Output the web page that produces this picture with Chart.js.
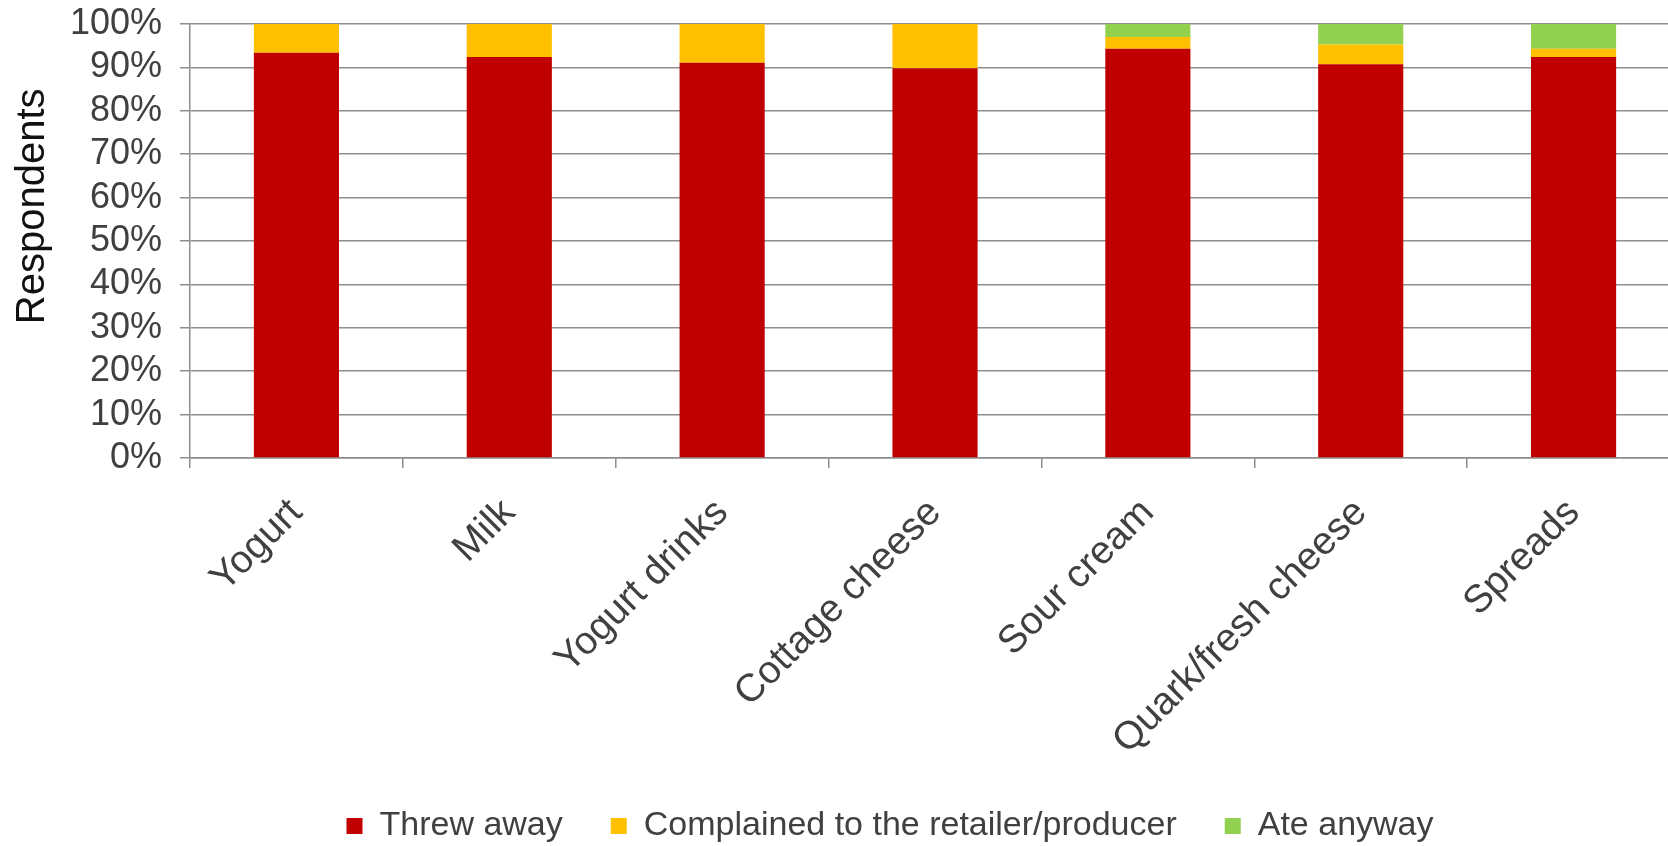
<!DOCTYPE html>
<html>
<head>
<meta charset="utf-8">
<title>Respondents</title>
<script src="https://cdn.jsdelivr.net/npm/chart.js@4.4.0/dist/chart.umd.min.js"></script>
<style>
    html, body { margin: 0; padding: 0; background: #fff; overflow: hidden; }
    #wrap { width: 1680px; height: 846px; }
</style>
</head>
<body>
<div id="wrap"><canvas id="chart"></canvas></div>
<script>
// Datos de la grafica (porcentaje de encuestados)
const categories = ['Yogurt', 'Milk', 'Yogurt drinks', 'Cottage cheese', 'Sour cream', 'Quark/fresh cheese', 'Spreads'];
const seriesNames = ['Threw away', 'Complained to the retailer/producer', 'Ate anyway'];
const threwAway = [93.4, 92.4, 91.1, 89.8, 94.3, 90.7, 92.4];
const complained = [6.6, 7.6, 8.9, 10.2, 2.7, 4.6, 1.9];
const ateAnyway = [0, 0, 0, 0, 3.0, 4.7, 5.7];
const yTickLabels = ['0%', '10%', '20%', '30%', '40%', '50%', '60%', '70%', '80%', '90%', '100%'];

const fontFamily = '"Liberation Sans", Arial, sans-serif';
const textColor = '#404040';
const gridColor = '#8e8e8e';

// titulo del eje Y, un poco por encima del centro
const yTitle = {
    id: 'yTitle',
    afterDraw(chart) {
        const { ctx, chartArea } = chart;
        ctx.save();
        ctx.translate(33, chartArea.top + (chartArea.bottom - chartArea.top) * 0.42);
        ctx.rotate(-Math.PI / 2);
        ctx.font = '40px ' + fontFamily;
        ctx.fillStyle = '#111';
        ctx.textAlign = 'center';
        ctx.textBaseline = 'middle';
        ctx.fillText('Respondents', 0, 0);
        ctx.restore();
    }
};

// mueve la leyenda un poco a la derecha
const legendShift = {
    id: 'legendShift',
    afterLayout(chart) {
        chart.legend.left += 50;
        chart.legend.right += 50;
    }
};

const ctx = document.getElementById('chart').getContext('2d');

new Chart(ctx, {
    type: 'bar',
    data: {
        labels: categories,
        datasets: [
            { label: seriesNames[0], data: threwAway, backgroundColor: '#C00000' },
            { label: seriesNames[1], data: complained, backgroundColor: '#FFC000' },
            { label: seriesNames[2], data: ateAnyway, backgroundColor: '#92D050' }
        ]
    },
    options: {
        responsive: true,
        maintainAspectRatio: false,
        animation: false,
        barPercentage: 0.4,
        categoryPercentage: 1,
        layout: { autoPadding: false, padding: { left: 0, top: 24, right: 0, bottom: -7 } },
        plugins: {
            legend: {
                position: 'bottom',
                labels: {
                    boxWidth: 16,
                    boxHeight: 16,
                    padding: 48,
                    color: textColor,
                    font: { family: fontFamily, size: 34 }
                }
            },
            tooltip: { enabled: false }
        },
        scales: {
            x: {
                stacked: true,
                grid: { display: true, drawOnChartArea: false, color: gridColor, lineWidth: 1.5, tickLength: 10 },
                border: { color: gridColor, width: 1.5 },
                ticks: {
                    color: textColor,
                    font: { family: fontFamily, size: 39 },
                    maxRotation: 45,
                    minRotation: 45,
                    autoSkip: false,
                    padding: 22
                },
                afterFit(scale) {
                    scale.height = 303;
                    scale.paddingLeft = 0;
                    scale.paddingRight = 0;
                }
            },
            y: {
                stacked: true,
                min: 0,
                max: 100,
                grid: { color: gridColor, lineWidth: 1.5, tickLength: 10 },
                border: { color: gridColor, width: 1.5 },
                ticks: {
                    stepSize: 10,
                    autoSkip: false,
                    color: textColor,
                    font: { family: fontFamily, size: 36 },
                    padding: 18,
                    callback: (value, index) => yTickLabels[index]
                },
                afterFit(scale) {
                    scale.width = 190;
                    scale.paddingTop = 0;
                    scale.paddingBottom = 0;
                }
            }
        }
    },
    plugins: [yTitle, legendShift]
});
</script>
</body>
</html>
